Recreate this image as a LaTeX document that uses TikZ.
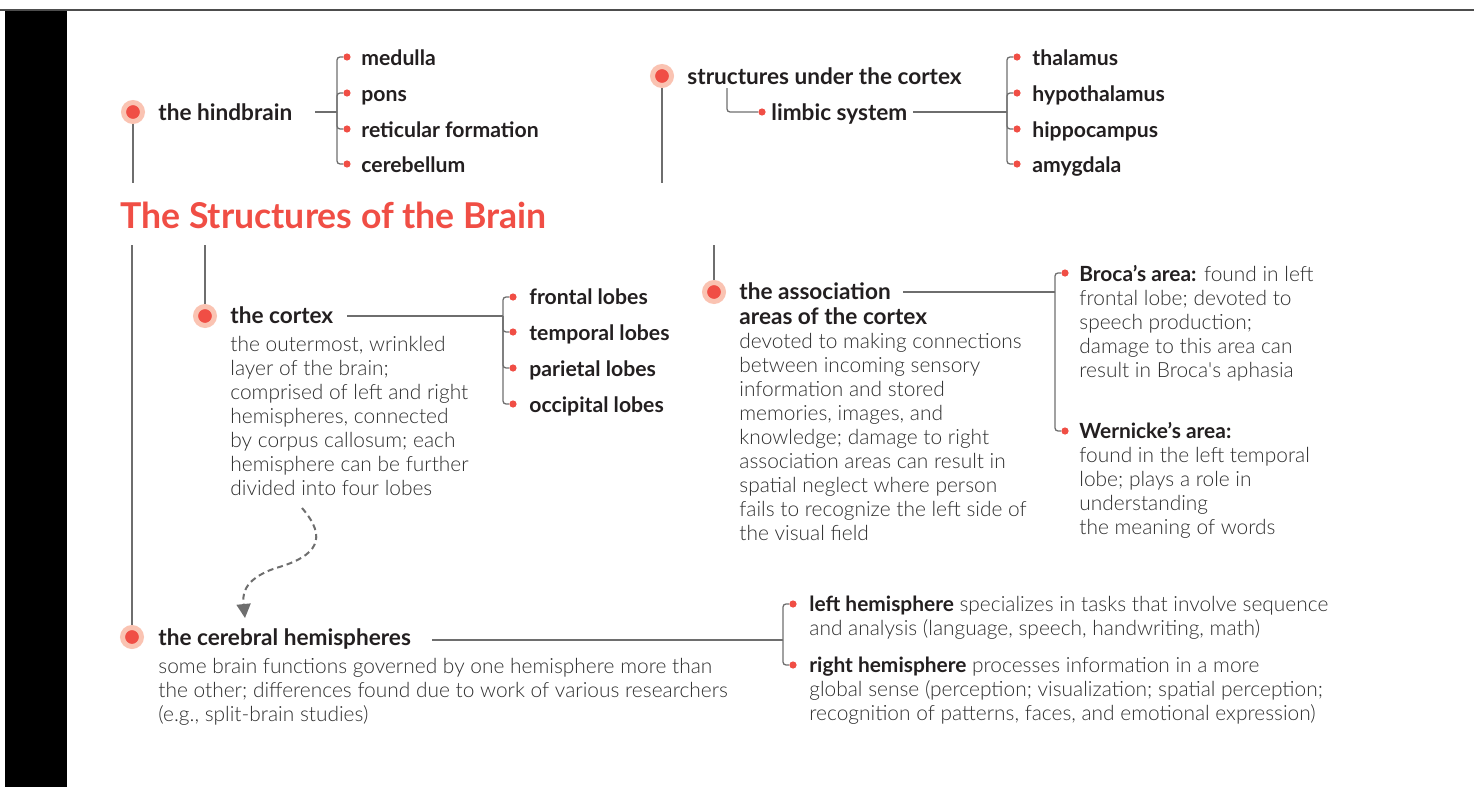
\documentclass[tikz,border=0pt]{standalone}
\usepackage{fontspec}
\setmainfont{Lato}
\newfontfamily\thinfont{Lato Light}
\usetikzlibrary{arrows.meta,positioning,calc}
\definecolor{brainred}{HTML}{F04E45}
\definecolor{halo}{HTML}{FAC3B2}
\definecolor{ink}{HTML}{231F20}
\definecolor{body}{HTML}{2E2E2E}
\definecolor{wire}{HTML}{6E6E6E}

\begin{document}
\begin{tikzpicture}[x=0.5pt,y=-0.5pt,
  hub/.style={circle,fill=brainred,draw=halo,line width=2.5pt,minimum size=9.5pt,inner sep=0pt,outer sep=1.25pt},
  tip/.style={circle,fill=brainred,inner sep=0pt,minimum size=3.6pt},
  head/.style={anchor=base west,inner sep=0pt,align=left,font=\fontsize{11.3}{12.5}\selectfont\bfseries,text=ink},
  item/.style={anchor=base west,inner sep=0pt,font=\fontsize{10.6}{12}\selectfont\bfseries,text=ink},
  desc/.style={anchor=base west,inner sep=0pt,align=left,font=\thinfont\fontsize{10.45}{12}\selectfont,text=body},
  wire/.style={draw=wire,line width=0.65pt,rounded corners=1.5pt},
  hint/.style={draw=wire,line width=1pt,dash pattern=on 3pt off 2pt,-{Triangle[length=7pt,width=7pt]}}]
\useasboundingbox (0,0) rectangle (1474,787);
% frame
\fill[black] (5,11) rectangle (67,787);
\draw[line width=1pt,wire!70!black] (0,10) -- (1474,10);

% title
\node[anchor=base west,inner sep=0pt,font=\fontsize{17.8}{20}\selectfont\bfseries,text=brainred] (ttl) at (120,228) {The Structures of the Brain};

% the hindbrain
\node[hub] (hb) at (133,112) {};
\node[head] (hbt) at (158,120) {the hindbrain};
\coordinate (hbe) at (133,183);
\coordinate (hbs) at (315,112);
\coordinate (hbk) at (337,112);
\node[tip] (med) at (347,57) {};
\node[tip] (pon) at (347,93) {};
\node[tip] (ret) at (347,129) {};
\node[tip] (cer) at (347,164) {};
\node[item] (medt) at (361,65) {medulla};
\node[item] (pont) at (361,101) {pons};
\node[item] (rett) at (361,137) {reticular formation};
\node[item] (cert) at (361,172) {cerebellum};
\draw[wire] (hb) -- (hbe);
\draw[wire] (hbs) -- (hbk);
\draw[wire] (hbk) |- (med);
\draw[wire] (hbk) |- (pon);
\draw[wire] (hbk) |- (ret);
\draw[wire] (hbk) |- (cer);

% structures under the cortex
\node[hub] (suc) at (662,76) {};
\node[head] (suct) at (687,84) {structures under the cortex};
\coordinate (suce) at (662,183);
\coordinate (sucb) at (727,88);
\node[tip] (lim) at (762,112) {};
\node[head] (limt) at (771,120) {limbic system};
\coordinate (lims) at (913,112);
\coordinate (limk) at (1007,112);
\node[tip] (tha) at (1017,57) {};
\node[tip] (hyp) at (1017,93) {};
\node[tip] (hip) at (1017,129) {};
\node[tip] (amy) at (1017,164) {};
\node[item] (that) at (1032,65) {thalamus};
\node[item] (hypt) at (1032,101) {hypothalamus};
\node[item] (hipt) at (1032,137) {hippocampus};
\node[item] (amyt) at (1032,172) {amygdala};
\draw[wire] (suc) -- (suce);
\draw[wire] (sucb) |- (lim);
\draw[wire] (lims) -- (limk);
\draw[wire] (limk) |- (tha);
\draw[wire] (limk) |- (hyp);
\draw[wire] (limk) |- (hip);
\draw[wire] (limk) |- (amy);

% the cortex
\coordinate (cxs) at (205,245);
\node[hub] (cx) at (205,316) {};
\node[head] (cxt) at (230,323) {the cortex};
\node[desc] (cxd) at (230,495) {the outermost, wrinkled\\layer of the brain;\\comprised of left and right\\hemispheres, connected\\by corpus callosum; each\\hemisphere can be further\\divided into four lobes};
\coordinate (cxl) at (347,316);
\coordinate (cxk) at (503,316);
\node[tip] (fro) at (513,297) {};
\node[tip] (tem) at (513,332) {};
\node[tip] (par) at (513,368) {};
\node[tip] (occ) at (513,404) {};
\node[item] (frot) at (529,304) {frontal lobes};
\node[item] (temt) at (529,340) {temporal lobes};
\node[item] (part) at (529,376) {parietal lobes};
\node[item] (occt) at (529,412) {occipital lobes};
\draw[wire] (cxs) -- (cx);
\draw[wire] (cxl) -- (cxk);
\draw[wire] (cxk) |- (fro);
\draw[wire] (cxk) |- (tem);
\draw[wire] (cxk) |- (par);
\draw[wire] (cxk) |- (occ);

% the association areas
\coordinate (ass) at (714,245);
\node[hub] (as) at (714,292) {};
\node[head] (ast) at (739,324) {the association\\areas of the cortex};
\node[desc] (asd) at (739,540) {devoted to making connections\\between incoming sensory\\information and stored\\memories, images, and\\knowledge; damage to right\\association areas can result in\\spatial neglect where person\\fails to recognize the left side of\\the visual field};
\coordinate (asl) at (903,292);
\coordinate (ask) at (1055,292);
\node[tip] (bro) at (1065,273) {};
\node[tip] (wer) at (1065,431) {};
\node[desc] (brot) at (1079,377) {{\normalfont\color{ink}\bfseries Broca’s area:} found in left\\frontal lobe; devoted to\\speech production;\\damage to this area can\\result in Broca\textquotesingle s aphasia};
\node[desc] (wert) at (1079,534) {{\normalfont\color{ink}\bfseries Wernicke’s area:}\\found in the left temporal\\lobe; plays a role in\\understanding\\the meaning of words};
\draw[wire] (ass) -- (as);
\draw[wire] (asl) -- (ask);
\draw[wire] (ask) |- (bro);
\draw[wire] (ask) |- (wer);

% the cerebral hemispheres
\coordinate (chs) at (132,245);
\node[hub] (ch) at (132,637) {};
\node[head] (cht) at (158,645) {the cerebral hemispheres};
\node[desc] (chd) at (158,721) {some brain functions governed by one hemisphere more than\\the other; differences found due to work of various researchers\\(e.g., split-brain studies)};
\coordinate (chl) at (432,640);
\coordinate (chk) at (783,640);
\node[tip] (lft) at (793,604) {};
\node[tip] (rgt) at (793,665) {};
\node[desc] (lftt) at (809,635) {{\normalfont\color{ink}\bfseries left hemisphere} specializes in tasks that involve sequence\\and analysis (language, speech, handwriting, math)};
\node[desc] (rgtt) at (809,720) {{\normalfont\color{ink}\bfseries right hemisphere} processes information in a more\\global sense (perception; visualization; spatial perception;\\recognition of patterns, faces, and emotional expression)};
\draw[wire] (chs) -- (ch);
\draw[wire] (chl) -- (chk);
\draw[wire] (chk) |- (lft);
\draw[wire] (chk) |- (rgt);

% cortex splits into the hemispheres
\coordinate (arrs) at (302,508);
\coordinate (arre) at (245,618);
\draw[hint] (arrs) .. controls (328,538) and (318,556) .. (276,568) .. controls (240,580) and (243,598) .. (arre);
\end{tikzpicture}
\end{document}
